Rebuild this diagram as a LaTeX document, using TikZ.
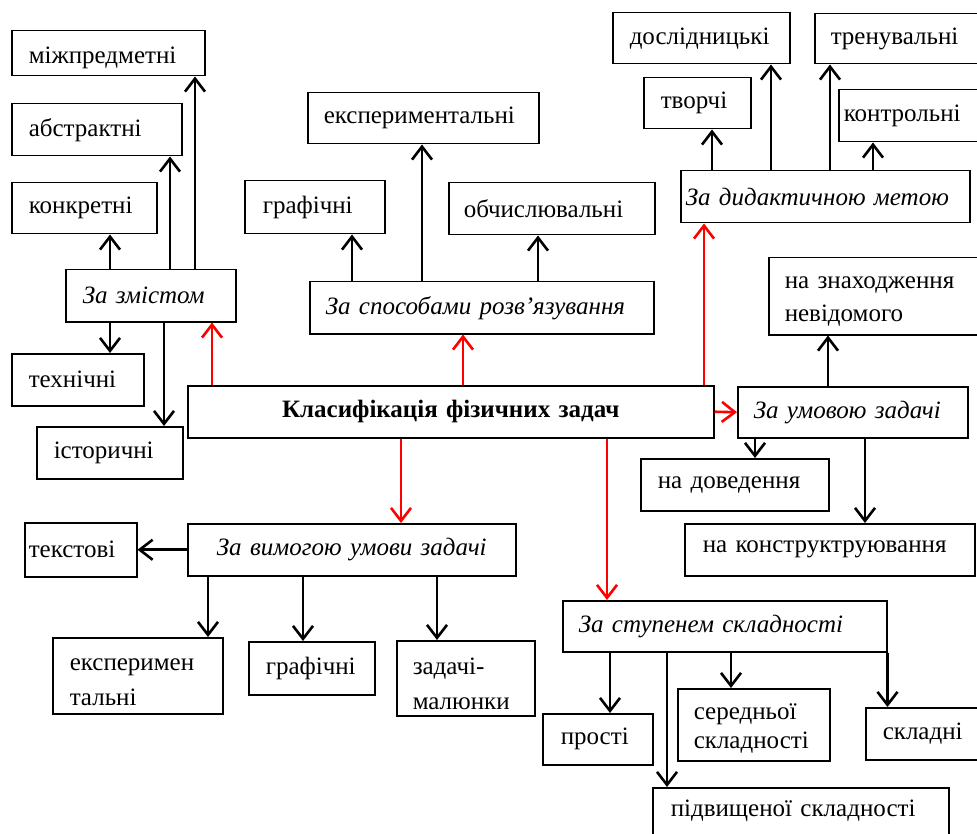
\documentclass[tikz,border=0pt]{standalone}
\usepackage{fontspec}
\setmainfont{Liberation Serif}
\usetikzlibrary{arrows.meta}
\tikzset{
  box/.style={draw, line width=1.5pt, anchor=north west, inner xsep=17pt, inner ysep=0pt, align=left,
    font=\fontsize{25}{30}\selectfont},
  ibox/.style={box, font=\fontsize{25}{30}\selectfont\itshape},
  arr/.style={line width=2.6pt, -{Straight Barb[length=13pt,width=20pt]}},
  rarr/.style={arr, red}
}
\begin{document}
\begin{tikzpicture}[x=1pt,y=-1pt]
\clip (0,0) rectangle (977,834);
\fill[white] (0,0) rectangle (977,834);
% left group
\node[box, text width=159pt, minimum height=45pt, text height=21pt, text depth=0pt] (mizh) at (11,30) {міжпредметні};
\node[box, text width=136pt, minimum height=52pt] (abstr) at (11,103) {абстрактні};
\node[box, text width=111pt, minimum height=51pt] (konkr) at (11,182) {конкретні};
\node[ibox, text width=136pt, minimum height=52pt] (zmist) at (65,269) {За змістом};
\node[box, text width=98pt, minimum height=52pt] (tekhn) at (11,353) {технічні};
\node[box, text width=112pt, minimum height=52pt] (istor) at (36,426) {історичні};
% centre
\node[box, align=center, inner xsep=0pt, text width=526pt, minimum height=52pt, font=\fontsize{25}{30}\selectfont\bfseries] (klas) at (187,385) {Класифікація фізичних задач};
% methods
\node[box, inner xsep=16pt, text width=199pt, minimum height=51pt] (exper) at (307,92) {експериментальні};
\node[box, inner xsep=18pt, text width=104pt, minimum height=53pt] (grafT) at (244,180) {графічні};
\node[box, inner xsep=15pt, text width=176pt, minimum height=52pt] (obch) at (448,182) {обчислювальні};
\node[ibox, inner xsep=16pt, text width=312pt, minimum height=52pt] (sposob) at (309,281) {За способами розв’язування};
% didactic
\node[box, text width=143pt, minimum height=51pt] (dosl) at (612,12) {дослідницькі};
\node[box, inner xsep=16pt, text width=148pt, minimum height=50pt] (tren) at (814,13) {тренувальні};
\node[box, text width=73pt, minimum height=51pt] (tvor) at (643,77) {творчі};
\node[box, inner xsep=5pt, text width=150pt, minimum height=52pt] (kontr) at (838,89) {контрольні};
\node[ibox, inner xsep=5pt, text width=279pt, minimum height=52pt] (dydakt) at (680,170) {За дидактичною метою};
% condition
\node[box, inner xsep=16pt, text width=188pt, minimum height=77pt, text height=0pt, text depth=15pt] (znakh) at (768,257) {на знаходження\\[3pt]невідомого};
\node[ibox, inner xsep=16pt, text width=198pt, minimum height=51pt] (umova) at (737,386) {За умовою задачі};
\node[box, text width=154pt, minimum height=52pt] (doved) at (640,458) {на доведення};
\node[box, inner xsep=18pt, text width=254pt, minimum height=52pt] (konstr) at (684,523) {на конструктруювання};
% requirement
\node[box, inner xsep=4pt, text width=104pt, minimum height=54pt] (tekst) at (24,522) {текстові};
\node[ibox, align=center, inner xsep=0pt, text width=328pt, minimum height=52pt] (vymoha) at (187,523) {За вимогою умови задачі};
\node[box, text width=136pt, minimum height=76pt, text height=0pt, text depth=10pt] (experB) at (52,637) {експеримен\\[5pt]тальні};
\node[box, text width=92pt, minimum height=53pt] (grafB) at (248,641) {графічні};
\node[box, inner xsep=16pt, text width=106pt, minimum height=75pt, text height=0pt, text depth=7pt] (malunky) at (396,640) {задачі-\\[5pt]малюнки};
% complexity
\node[ibox, inner xsep=16pt, text width=292pt, minimum height=51pt] (stupin) at (562,600) {За ступенем складності};
\node[box, inner xsep=18pt, text width=74pt, minimum height=51pt] (prosti) at (542,713) {прості};
\node[box, inner xsep=16pt, text width=120pt, minimum height=72pt, text height=0pt, text depth=10pt] (seredn) at (677,688) {середньої\\[-1pt]складності};
\node[box, text width=120pt, minimum height=52pt] (skladni) at (865,707) {складні};
\node[box, inner xsep=18pt, text width=260pt, minimum height=50pt, text height=8pt, text depth=0pt] (pidv) at (652,787) {підвищеної складності};
% connectors: content
\draw[arr] (zmist.north -| 110,0) -- (konkr.south -| 110,0);
\draw[arr] (zmist.north -| 170,0) -- (abstr.south -| 170,0);
\draw[arr] (zmist.north -| 195,0) -- (mizh.south -| 195,0);
\draw[arr] (zmist.south -| 110,0) -- (tekhn.north -| 110,0);
\draw[arr] (zmist.south -| 164,0) -- (istor.north -| 164,0);
% methods
\draw[arr] (sposob.north -| 352,0) -- (grafT.south -| 352,0);
\draw[arr] (sposob.north -| 422,0) -- (exper.south -| 422,0);
\draw[arr] (sposob.north -| 538,0) -- (obch.south -| 538,0);
% didactic
\draw[arr] (dydakt.north -| 712,0) -- (tvor.south -| 712,0);
\draw[arr] (dydakt.north -| 771,0) -- (dosl.south -| 771,0);
\draw[arr] (dydakt.north -| 830,0) -- (tren.south -| 830,0);
\draw[arr] (dydakt.north -| 873,0) -- (kontr.south -| 873,0);
% condition
\draw[arr] (umova.north -| 828,0) -- (znakh.south -| 828,0);
\draw[arr] (umova.south -| 755,0) -- (doved.north -| 755,0);
\draw[arr] (umova.south -| 865,0) -- (konstr.north -| 865,0);
% requirement
\draw[arr] (vymoha.west) -- (tekst.east);
\draw[arr] (vymoha.south -| 208,0) -- (experB.north -| 208,0);
\draw[arr] (vymoha.south -| 303,0) -- (grafB.north -| 303,0);
\draw[arr] (vymoha.south -| 437,0) -- (malunky.north -| 437,0);
% complexity
\draw[arr] (stupin.south -| 610,0) -- (prosti.north -| 610,0);
\draw[arr] (stupin.south -| 667,0) -- (pidv.north -| 667,0);
\draw[arr] (stupin.south -| 731,0) -- (seredn.north -| 731,0);
\draw[arr] (stupin.south east) -- (skladni.north -| stupin.south east);
% red from the centre
\draw[rarr] (klas.north -| 212,0) -- (zmist.south -| 212,0);
\draw[rarr] (klas.north -| 463,0) -- (sposob.south -| 463,0);
\draw[rarr] (klas.north -| 704,0) -- (dydakt.south -| 704,0);
\draw[rarr] (klas.east) -- (umova.west);
\draw[rarr] (klas.south -| 401,0) -- (vymoha.north -| 401,0);
\draw[rarr] (klas.south -| 607,0) -- (stupin.north -| 607,0);
\end{tikzpicture}
\end{document}
